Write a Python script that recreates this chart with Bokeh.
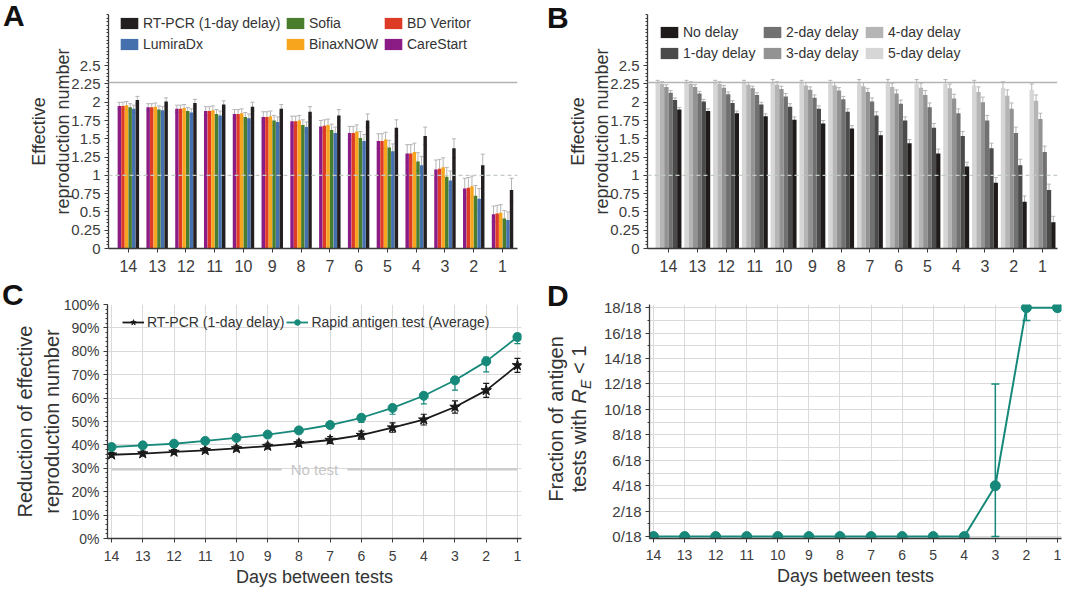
import numpy as np
from bokeh.plotting import figure
from bokeh.models import (ColumnDataSource, FixedTicker, Span, Label, Legend, LegendItem,
                          Whisker, TeeHead, Range1d, NumeralTickFormatter, PrintfTickFormatter, Div)
from bokeh.transform import dodge
from bokeh.layouts import row, column
from bokeh.embed import file_html
from bokeh.resources import INLINE

FONT = "Liberation Sans"
TXT = "#333333"
AX = "#3a3a3a"
WH = "#b5b5b5"
TEAL = "#17897a"

days = [14, 13, 12, 11, 10, 9, 8, 7, 6, 5, 4, 3, 2, 1]

# ---------------- Panel A data ----------------
a_names = ["CareStart", "BD Veritor", "BinaxNOW", "Sofia", "LumiraDx", "RT-PCR (1-day delay)"]
a_colors = ["#8b1c86", "#de3b26", "#f7a51c", "#4a7d2c", "#4470ae", "#231f20"]
carestart  = [1.95, 1.93, 1.91, 1.88, 1.84, 1.80, 1.74, 1.67, 1.58, 1.47, 1.30, 1.08, 0.82, 0.47]
bd_veritor = [1.95, 1.93, 1.91, 1.88, 1.84, 1.80, 1.74, 1.68, 1.58, 1.47, 1.30, 1.09, 0.83, 0.48]
binaxnow   = [1.96, 1.94, 1.92, 1.89, 1.85, 1.81, 1.75, 1.69, 1.60, 1.49, 1.32, 1.11, 0.85, 0.49]
sofia      = [1.93, 1.90, 1.88, 1.84, 1.80, 1.75, 1.69, 1.62, 1.51, 1.38, 1.19, 0.98, 0.72, 0.41]
lumiradx   = [1.91, 1.89, 1.86, 1.82, 1.78, 1.73, 1.66, 1.58, 1.47, 1.33, 1.14, 0.93, 0.68, 0.39]
rtpcr_1d   = [2.03, 2.01, 1.99, 1.97, 1.94, 1.91, 1.87, 1.82, 1.75, 1.65, 1.54, 1.37, 1.14, 0.80]
antigen_err = [0.05, 0.05, 0.05, 0.06, 0.06, 0.07, 0.07, 0.08, 0.09, 0.10, 0.12, 0.13, 0.14, 0.11]
rtpcr_err   = [0.05, 0.05, 0.05, 0.05, 0.06, 0.06, 0.07, 0.08, 0.09, 0.11, 0.12, 0.13, 0.15, 0.16]
r_no_test = 2.27
r_threshold = 1.0
r_yticks = [0, 0.25, 0.5, 0.75, 1.0, 1.25, 1.5, 1.75, 2.0, 2.25, 2.5]

# ---------------- Panel B data ----------------
b_names = ["5-day delay", "4-day delay", "3-day delay", "2-day delay", "1-day delay", "No delay"]
b_colors = ["#d6d6d6", "#b5b5b5", "#939393", "#717171", "#4b4b4b", "#1e1b1a"]
delay_5 = [2.27, 2.27, 2.27, 2.27, 2.27, 2.26, 2.26, 2.26, 2.26, 2.25, 2.25, 2.23, 2.20, 2.17]
delay_4 = [2.25, 2.25, 2.25, 2.24, 2.24, 2.23, 2.23, 2.22, 2.21, 2.20, 2.19, 2.14, 2.09, 2.02]
delay_3 = [2.21, 2.21, 2.20, 2.19, 2.18, 2.17, 2.16, 2.14, 2.12, 2.10, 2.05, 2.00, 1.91, 1.77]
delay_2 = [2.13, 2.12, 2.11, 2.10, 2.08, 2.06, 2.04, 2.01, 1.98, 1.93, 1.85, 1.75, 1.58, 1.32]
delay_1 = [2.03, 2.01, 1.99, 1.97, 1.94, 1.91, 1.87, 1.82, 1.75, 1.65, 1.54, 1.37, 1.14, 0.80]
delay_0 = [1.90, 1.88, 1.85, 1.81, 1.76, 1.71, 1.64, 1.55, 1.44, 1.30, 1.12, 0.90, 0.64, 0.36]
delay_err = [0.03, 0.03, 0.03, 0.03, 0.04, 0.04, 0.04, 0.05, 0.05, 0.06, 0.06, 0.07, 0.08, 0.08]

# ---------------- Panel C data ----------------
c_rtpcr      = [35.8, 36.3, 37.0, 37.7, 38.5, 39.5, 40.7, 42.1, 44.2, 47.4, 50.8, 56.2, 63.3, 74.0]
c_rtpcr_err  = [1.0, 1.0, 1.0, 1.0, 1.1, 1.2, 1.3, 1.5, 1.7, 2.0, 2.3, 2.6, 3.0, 3.0]
c_antigen    = [39.1, 39.8, 40.5, 41.7, 43.0, 44.4, 46.2, 48.5, 51.6, 55.8, 61.0, 67.6, 75.7, 86.1]
c_antigen_lo = [0.6, 0.6, 0.7, 0.8, 0.9, 1.0, 1.2, 1.5, 2.0, 2.7, 3.5, 4.2, 4.5, 2.8]
c_antigen_hi = [0.4, 0.4, 0.4, 0.5, 0.5, 0.6, 0.7, 0.8, 1.0, 1.2, 1.4, 1.6, 1.8, 1.5]
no_test_reduction = 29.5
c_yticks = [0, 10, 20, 30, 40, 50, 60, 70, 80, 90, 100]

# ---------------- Panel D data ----------------
d_fraction  = [0, 0, 0, 0, 0, 0, 0, 0, 0, 0, 0, 4, 18, 18]
d_err_lower = [0, 0, 0, 0, 0, 0, 0, 0, 0, 0, 0, 0, 17, 18]
d_err_upper = [0, 0, 0, 0, 0, 0, 0, 0, 0, 0, 0, 12, 18, 18]
d_ticks = [0, 2, 4, 6, 8, 10, 12, 14, 16, 18]
d_tick_labels = ["0/18", "2/18", "4/18", "6/18", "8/18", "10/18", "12/18", "14/18", "16/18", "18/18"]


def base_fig(w, h, xr, yr, bl, br, bt, bb):
    p = figure(width=w, height=h, x_range=xr, y_range=yr, output_backend="svg",
               toolbar_location=None, min_border_left=bl, min_border_right=br,
               min_border_top=bt, min_border_bottom=bb, margin=0)
    p.outline_line_color = None
    p.background_fill_color = "white"
    p.border_fill_color = None
    return p


def style_axes(p, xsize, ysize, xstandoff):
    for ax in p.axis:
        ax.axis_line_color = AX
        ax.axis_line_width = 1.3
        ax.major_tick_line_color = AX
        ax.minor_tick_line_color = AX
        ax.major_tick_in = 0
        ax.minor_tick_in = 0
        ax.major_tick_out = 4
        ax.minor_tick_out = 2
        ax.major_label_text_font = FONT
        ax.major_label_text_color = "#3c3c3c"
        ax.axis_label_text_font = FONT
        ax.axis_label_text_font_style = "normal"
        ax.axis_label_text_color = TXT
        ax.axis_label_standoff = 0
    p.xaxis.major_label_text_font_size = xsize
    p.yaxis.major_label_text_font_size = ysize
    p.xaxis.major_label_standoff = xstandoff
    p.yaxis.major_label_standoff = 4
    p.xaxis.minor_tick_line_color = None


def letter_div(letter, w, h, left, top):
    html = (f'<div style="position:relative;width:{w}px;height:{h}px;overflow:visible;">'
            f'<div style="position:absolute;left:{left}px;top:{top}px;font-family:\'{FONT}\';'
            f'font-weight:bold;font-size:30px;line-height:30px;color:#111;">{letter}</div></div>')
    return Div(text=html, width=w, height=h, margin=0, styles={"overflow": "visible"})


def add_legend(p, items, loc, orientation="vertical", spacing=5, standoff=3):
    lg = Legend(items=[LegendItem(label=l, renderers=rs) for l, rs in items], location=loc,
                orientation=orientation, background_fill_alpha=0, border_line_alpha=0,
                padding=0, margin=0, spacing=spacing, glyph_width=22, glyph_height=14,
                label_standoff=standoff, label_text_font=FONT, label_text_font_size="14px",
                label_text_color=TXT, label_height=14)
    p.add_layout(lg)


def bar_panel(p, series, errs, colors, step, width, title_standoff):
    data = {"day": days}
    for i, (vals, err) in enumerate(zip(series, errs)):
        data[f"v{i}"] = vals
        data[f"lo{i}"] = [v - e for v, e in zip(vals, err)]
        data[f"hi{i}"] = [v + e for v, e in zip(vals, err)]
    src = ColumnDataSource(data)
    n = len(series)
    rs = []
    for i in range(n):
        off = ((n - 1) / 2 - i) * step
        r = p.vbar(x=dodge("day", off, range=p.x_range), top=f"v{i}", bottom=0, width=width,
                   source=src, fill_color=colors[i], line_color=None)
        rs.append(r)
        p.add_layout(Whisker(source=src, base=dodge("day", off, range=p.x_range),
                             lower=f"lo{i}", upper=f"hi{i}", line_color=WH, line_width=1,
                             upper_head=TeeHead(size=4, line_color=WH, line_width=1),
                             lower_head=TeeHead(size=4, line_color=WH, line_width=1)))
    p.add_layout(Span(location=r_no_test, dimension="width", line_color="#b3b3b3", line_width=1.3))
    p.add_layout(Span(location=r_threshold, dimension="width", line_color="#c3ccc3",
                      line_width=1.3, line_dash="4 3"))
    p.grid.visible = False
    p.xaxis.ticker = FixedTicker(ticks=days)
    p.yaxis.ticker = FixedTicker(ticks=r_yticks,
                                 minor_ticks=[float(v) for v in np.round(np.arange(0, 3.2001, 0.05), 2)])
    p.yaxis.formatter = NumeralTickFormatter(format="0.[00]")
    style_axes(p, "16px", "15px", 7)
    p.yaxis.axis_label = "Effective\nreproduction number"
    p.yaxis.axis_label_text_font_size = "18px"
    p.yaxis.axis_label_standoff = title_standoff
    return rs


ROW1_H = 283
ROW2_H = 311

# ---------------- Panel A ----------------
pA = base_fig(528, ROW1_H, Range1d(14.69, 0.48), Range1d(0, 3.2), 98, 21, 14, 35)
rA = bar_panel(pA, [carestart, bd_veritor, binaxnow, sofia, lumiradx, rtpcr_1d],
               [antigen_err] * 5 + [rtpcr_err], a_colors, 0.125, 0.12, -5)
add_legend(pA, [(a_names[5], [rA[5]]), (a_names[4], [rA[4]])], (10, 196))
add_legend(pA, [(a_names[3], [rA[3]]), (a_names[2], [rA[2]])], (176, 196))
add_legend(pA, [(a_names[1], [rA[1]]), (a_names[0], [rA[0]])], (274, 196))

# ---------------- Panel B ----------------
pB = base_fig(520, ROW1_H, Range1d(14.73, 0.48), Range1d(0, 3.2), 99, 11, 14, 35)
rB = bar_panel(pB, [delay_5, delay_4, delay_3, delay_2, delay_1, delay_0],
               [delay_err] * 6, b_colors, 0.15, 0.15, -5)
add_legend(pB, [(b_names[5], [rB[5]]), (b_names[4], [rB[4]])], (11, 187))
add_legend(pB, [(b_names[3], [rB[3]]), (b_names[2], [rB[2]])], (114, 187))
add_legend(pB, [(b_names[1], [rB[1]]), (b_names[0], [rB[0]])], (216, 187))

# ---------------- Panel C ----------------
pC = base_fig(528, ROW2_H, Range1d(14.13, 0.87), Range1d(0, 100), 97, 17, 21, 56)
srcC = ColumnDataSource(dict(
    day=days, pcr=c_rtpcr, ag=c_antigen,
    pcr_lo=[v - e for v, e in zip(c_rtpcr, c_rtpcr_err)],
    pcr_hi=[v + e for v, e in zip(c_rtpcr, c_rtpcr_err)],
    ag_lo=[v - e for v, e in zip(c_antigen, c_antigen_lo)],
    ag_hi=[v + e for v, e in zip(c_antigen, c_antigen_hi)],
))
pC.xgrid.ticker = FixedTicker(ticks=days)
pC.ygrid.ticker = FixedTicker(ticks=c_yticks)
pC.grid.grid_line_color = "#dadada"
pC.grid.grid_line_width = 1
gap_center = 7.5
gap_half = 1.05
pC.segment(x0=[days[0], gap_center - gap_half], x1=[gap_center + gap_half, days[-1]],
           y0=[no_test_reduction] * 2, y1=[no_test_reduction] * 2,
           line_color="#cbcbcb", line_width=2.2)
pC.add_layout(Label(x=gap_center, y=no_test_reduction, text="No test", text_align="center",
                    text_baseline="middle", text_font=FONT, text_font_size="15px",
                    text_color="#c6c6c6"))
for lo, hi, col in [("pcr_lo", "pcr_hi", "#1a1a1a"), ("ag_lo", "ag_hi", TEAL)]:
    pC.add_layout(Whisker(source=srcC, base="day", lower=lo, upper=hi, line_color=col,
                          line_width=1.2,
                          upper_head=TeeHead(size=6, line_color=col, line_width=1.2),
                          lower_head=TeeHead(size=6, line_color=col, line_width=1.2)))
l1 = pC.line("day", "pcr", source=srcC, line_color="#1a1a1a", line_width=1.8)
m1 = pC.scatter("day", "pcr", source=srcC, marker="star", size=11, fill_color="#1a1a1a",
                line_color="#1a1a1a")
l2 = pC.line("day", "ag", source=srcC, line_color=TEAL, line_width=1.8)
m2 = pC.scatter("day", "ag", source=srcC, marker="circle", size=9, fill_color=TEAL,
                line_color=TEAL)
add_legend(pC, [("RT-PCR (1-day delay)", [l1, m1]),
                ("Rapid antigen test (Average)", [l2, m2])], (15, 208),
           orientation="horizontal", spacing=2, standoff=3)
pC.xaxis.ticker = FixedTicker(ticks=days)
pC.yaxis.ticker = FixedTicker(ticks=c_yticks, minor_ticks=list(range(0, 101, 2)))
pC.yaxis.formatter = PrintfTickFormatter(format="%d%%")
style_axes(pC, "14px", "14px", 8)
pC.yaxis.axis_label = "Reduction of effective\nreproduction number"
pC.yaxis.axis_label_text_font_size = "20px"
pC.yaxis.axis_label_standoff = -2
pC.xaxis.axis_label = "Days between tests"
pC.xaxis.axis_label_text_font_size = "18px"
pC.xaxis.axis_label_standoff = 3

# ---------------- Panel D ----------------
pD = base_fig(468, ROW2_H, Range1d(14.13, 0.87), Range1d(-0.15, 18.25), 47, 7, 18, 54)
srcD = ColumnDataSource(dict(day=days, frac=d_fraction))
keep = [i for i in range(len(days)) if d_err_upper[i] > d_err_lower[i]]
srcDe = ColumnDataSource(dict(day=[days[i] for i in keep], lo=[d_err_lower[i] for i in keep],
                              hi=[d_err_upper[i] for i in keep]))
pD.xgrid.ticker = FixedTicker(ticks=days)
pD.ygrid.ticker = FixedTicker(ticks=list(range(0, 19)))
pD.grid.grid_line_color = "#dadada"
pD.grid.grid_line_width = 1
pD.add_layout(Whisker(source=srcDe, base="day", lower="lo", upper="hi", line_color=TEAL,
                      line_width=1.5,
                      upper_head=TeeHead(size=8, line_color=TEAL, line_width=1.5),
                      lower_head=TeeHead(size=8, line_color=TEAL, line_width=1.5)))
pD.line("day", "frac", source=srcD, line_color=TEAL, line_width=2)
pD.scatter("day", "frac", source=srcD, marker="circle", size=10, fill_color=TEAL,
           line_color=TEAL)
pD.xaxis.ticker = FixedTicker(ticks=days)
pD.yaxis.ticker = FixedTicker(ticks=d_ticks, minor_ticks=list(range(0, 19)))
pD.yaxis.major_label_overrides = dict(zip(d_ticks, d_tick_labels))
style_axes(pD, "14px", "15px", 7)
pD.xaxis.axis_label = "Days between tests"
pD.xaxis.axis_label_text_font_size = "18px"
pD.xaxis.axis_label_standoff = 3

# left strip of panel D: letter + rotated y title with subscript
rot = ("position:absolute;left:{x}px;top:{y}px;transform:translate(-50%,-50%) rotate(-90deg);"
       "white-space:nowrap;font-family:'" + FONT + "';font-size:20px;line-height:24px;color:" + TXT + ";")
d_html = (
    '<div style="position:relative;width:62px;height:' + str(ROW2_H) + 'px;overflow:visible;">'
    '<div style="position:absolute;left:9px;top:-2px;font-family:\'' + FONT + '\';font-weight:bold;'
    'font-size:30px;line-height:30px;color:#111;">D</div>'
    '<div style="' + rot.format(x=18, y=136) + '">Fraction of antigen</div>'
    '<div style="' + rot.format(x=44, y=136) + '">tests with <i>R</i><sub style="font-size:14px;">'
    '<i>E</i></sub> &lt; 1</div>'
    '</div>'
)
divD = Div(text=d_html, width=62, height=ROW2_H, margin=0, styles={"overflow": "visible"})

divA = letter_div("A", 10, ROW1_H, 3, 1)
divB = letter_div("B", 10, ROW1_H, 9, 3)
divC = letter_div("C", 10, ROW2_H, 2, -3)

layout = column(row(divA, pA, divB, pB, spacing=0), row(divC, pC, divD, pD, spacing=0), spacing=0)
open("out.html", "w").write(file_html(layout, INLINE))
